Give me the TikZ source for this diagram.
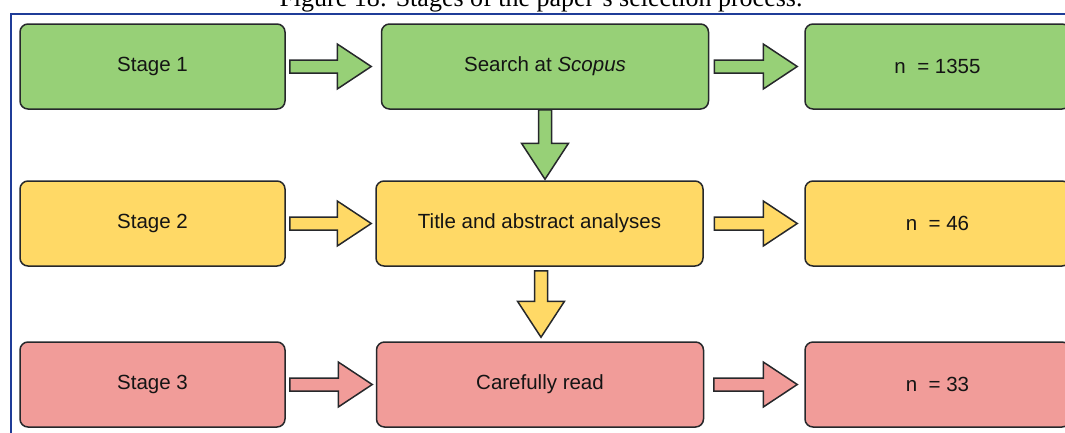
\documentclass[tikz,border=0pt]{standalone}
\usepackage{fontspec}
\setmainfont{Liberation Serif}
\newfontfamily\boxfont{Liberation Sans}
\usetikzlibrary{calc}

\definecolor{stagegreen}{HTML}{97D077}
\definecolor{stageyellow}{HTML}{FFD966}
\definecolor{stagered}{HTML}{F19C99}
\definecolor{edgegray}{HTML}{26282B}
\definecolor{framblue}{HTML}{1F3C98}
\definecolor{txtdark}{HTML}{141414}

% horizontal block arrow: #1 style, #2 tail point, #3 tip point
\newcommand\hblockarrow[3]{%
  \draw[#1] let \p1=#2, \p2=#3 in
    (\x1,\y1+6.5) -- (\x2-34,\y1+6.5) -- (\x2-34,\y1+22.5) -- (\x2,\y1)
    -- (\x2-34,\y1-22.5) -- (\x2-34,\y1-6.5) -- (\x1,\y1-6.5) -- cycle;}
% downward block arrow: #1 style, #2 tail point, #3 tip point
\newcommand\vblockarrow[3]{%
  \draw[#1] let \p1=#2, \p2=#3 in
    (\x1-6.5,\y1) -- (\x1-6.5,\y2+36) -- (\x1-23.5,\y2+36) -- (\x1,\y2)
    -- (\x1+23.5,\y2+36) -- (\x1+6.5,\y2+36) -- (\x1+6.5,\y1) -- cycle;}

\tikzset{
  stagebox/.style={draw=edgegray, line width=1.5pt, rounded corners=8pt,
    minimum height=85pt, inner sep=0pt, text=txtdark,
    font=\boxfont\fontsize{20.5}{24}\selectfont},
  narrowbox/.style={stagebox, minimum width=265pt},
  widebox/.style={stagebox, minimum width=327pt},
  arrowstyle/.style={draw=edgegray, line width=1.5pt, line join=miter},
}

\begin{document}
\begin{tikzpicture}[x=1pt, y=-1pt]
\useasboundingbox (0,0) rectangle (1065,432);

% caption (partly above the page edge)
\node[anchor=base, font=\fontsize{26}{30}\selectfont, inner sep=0pt]
  (caption) at (541,6.5) {Figure 18: Stages of the paper's selection process.};

% frame
\draw[framblue, line width=2pt] (1070,13.5) -- (10.5,13.5) -- (10.5,440);

% row 1
\node[narrowbox, fill=stagegreen] (s1) at (152.5,66.5) {Stage 1};
\node[widebox, fill=stagegreen] (search) at (545,66.5) {Search at \textit{Scopus}};
\node[narrowbox, fill=stagegreen] (n1) at (937.5,66.5) {n~~= 1355};

% row 2
\node[narrowbox, fill=stageyellow] (s2) at (152.5,223.5) {Stage 2};
\node[widebox, fill=stageyellow] (title) at (539.5,223.5) {Title and abstract analyses};
\node[narrowbox, fill=stageyellow] (n2) at (937.5,223.5) {n~~= 46};

% row 3
\node[narrowbox, fill=stagered] (s3) at (152.5,384.5) {Stage 3};
\node[widebox, fill=stagered] (read) at (540,384.5) {Carefully read};
\node[narrowbox, fill=stagered] (n3) at (937.5,384.5) {n~~= 33};

% horizontal arrows
\hblockarrow{arrowstyle, fill=stagegreen}{($(s1.east)+(4,0)$)}{($(search.west)+(-9.5,0)$)}
\hblockarrow{arrowstyle, fill=stagegreen}{($(search.east)+(5,0)$)}{($(n1.west)+(-7,0)$)}
\hblockarrow{arrowstyle, fill=stageyellow}{($(s2.east)+(4,0)$)}{($(title.west)+(-4,0)$)}
\hblockarrow{arrowstyle, fill=stageyellow}{($(title.east)+(10.5,0)$)}{($(n2.west)+(-7,0)$)}
\hblockarrow{arrowstyle, fill=stagered}{($(s3.east)+(4,0)$)}{($(read.west)+(-3.5,0)$)}
\hblockarrow{arrowstyle, fill=stagered}{($(read.east)+(9.5,0)$)}{($(n3.west)+(-7,0)$)}

% vertical arrows
\vblockarrow{arrowstyle, fill=stagegreen}{(search.south)}{($(search.south |- title.north)+(0,-1)$)}
\vblockarrow{arrowstyle, fill=stageyellow}{($(title.south)+(1.5,4)$)}{($(title.south |- read.north)+(1.5,-4)$)}
\end{tikzpicture}
\end{document}
